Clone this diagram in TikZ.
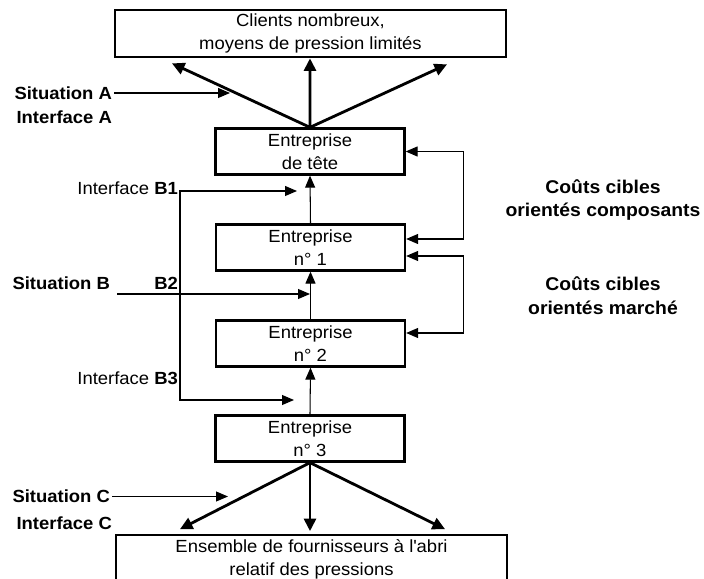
\documentclass[tikz,border=0pt]{standalone}
\usepackage{fontspec}
\setmainfont{Liberation Sans}[FakeStretch=1.05]
\usetikzlibrary{arrows.meta}
\begin{document}
\begin{tikzpicture}[font=\fontsize{10}{13}\selectfont,
    box/.style={draw,line width=1.3pt,minimum width=3.78cm,minimum height=0.92cm,align=center,inner sep=0pt},
    widebox/.style={box,minimum width=7.82cm,minimum height=0.95cm},
    lbl/.style={font=\fontsize{10}{13}\selectfont\bfseries,inner sep=1pt,anchor=east},
    big/.style={line width=1.6pt,-{Triangle[length=0.25cm,width=0.24cm]}},
    thin/.style={line width=0.6pt,-{Triangle[length=0.24cm,width=0.2cm]}},
    twotips/.style={line width=0.6pt,{Triangle[length=0.24cm,width=0.2cm]}-{Triangle[length=0.24cm,width=0.2cm]}}]
            \useasboundingbox (0,0) rectangle (14.08,-11.58);
            \node[widebox] (clients) at (6.21,-0.67) {Clients nombreux,\\moyens de pression limités};
            \node[box] (tete) at (6.2,-3.03) {Entreprise\\de tête};
            \node[box] (n1) at (6.21,-4.95) {Entreprise\\n° 1};
            \node[box] (n2) at (6.21,-6.87) {Entreprise\\n° 2};
            \node[box] (n3) at (6.2,-8.77) {Entreprise\\n° 3};
            \node[widebox] (fourn) at (6.23,-11.18) {Ensemble de fournisseurs à l\textquotesingle abri\\relatif des pressions};
            \draw[big] (tete.north) -- ([xshift=-2.77cm,yshift=-1mm]clients.south);
            \draw[big] (tete.north) -- ([xshift=-0.01cm]clients.south);
            \draw[big] (tete.north) -- ([xshift=2.73cm,yshift=-1.2mm]clients.south);
            \draw[big] (n3.south) -- ([xshift=-2.63cm,yshift=1mm]fourn.north);
            \draw[big] (n3.south) -- ([xshift=-0.03cm,yshift=0.6mm]fourn.north);
            \draw[big] (n3.south) -- ([xshift=2.67cm,yshift=1mm]fourn.north);
            \draw[thin] (n1.north) -- (tete.south);
            \draw[thin] (n2.north) -- (n1.south);
            \draw[thin] (n3.north) -- (n2.south);
            \draw[twotips] ([yshift=1.7mm]n1.east) -- ++(1.14,0) |- (tete.east);
            \draw[twotips] ([yshift=-1.7mm]n1.east) -- ++(1.14,0) |- ([yshift=2.1mm]n2.east);
            \node[lbl] (sitA) at (2.28,-1.86) {Situation A};
            \node[lbl] (intA) at (2.28,-2.34) {Interface A};
            \coordinate (ta) at (4.6,-1.86);
            \draw[thin] (sitA.east) -- (ta);
            \node[lbl,font=\fontsize{10}{13}\selectfont] (intB1) at (3.6,-3.76) {Interface \textbf{B1}};
            \node[lbl,font=\fontsize{10}{13}\selectfont] (intB3) at (3.6,-7.56) {Interface \textbf{B3}};
            \coordinate (b1) at (5.94,-3.82);
            \coordinate (b3) at (5.88,-8.0);
            \draw[twotips] (b1) -- (b1 -| intB1.east) |- (b3);
            \node[lbl] (sitB) at (2.24,-5.66) {Situation B};
            \node[lbl] (labB2) at (3.6,-5.66) {B2};
            \coordinate (b2s) at (2.34,-5.88);
            \coordinate (b2) at (6.2,-5.88);
            \draw[thin] (b2s) -- (b2);
            \node[lbl] (sitC) at (2.24,-9.93) {Situation C};
            \node[lbl] (intC) at (2.28,-10.46) {Interface C};
            \coordinate (tc) at (4.56,-9.93);
            \draw[thin] (sitC.east) -- (tc);
            \node[font=\fontsize{10.5}{13.5}\selectfont\bfseries,align=center] (ccomp) at (12.06,-4.0) {Coûts cibles\\orientés composants};
            \node[font=\fontsize{10.5}{13.5}\selectfont\bfseries,align=center] (cmarche) at (12.06,-5.92) {Coûts cibles\\orientés marché};
        \end{tikzpicture}
\end{document}
